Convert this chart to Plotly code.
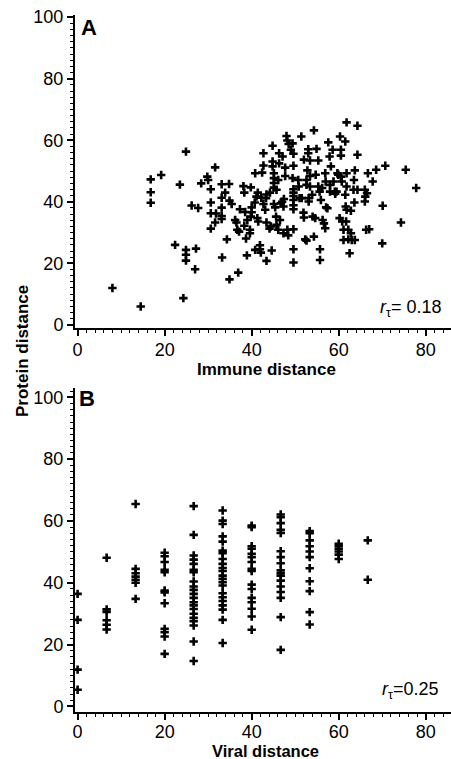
import plotly.graph_objects as go

# Panel A: immune distance vs protein distance
immune_x = [8.0, 14.5, 16.8, 16.8, 16.8, 19.2, 23.5, 24.9, 22.4, 24.9, 24.9, 24.9, 24.3, 26.2, 27.7, 27.2, 27.0,
            28.4, 29.8, 30.0, 31.6, 30.6, 30.6, 30.6, 30.6, 31.6, 31.8, 33.1, 33.1, 33.1, 33.1, 33.1, 33.2, 33.9,
            34.8, 34.3, 34.9, 34.9, 35.4, 36.2, 36.5, 36.7, 37.1, 36.9, 37.3, 38.1, 38.3, 38.5, 38.3, 38.7, 38.9,
            39.0, 39.6, 39.6, 39.8, 40.0, 40.0, 39.8, 40.7, 40.8, 40.8, 41.1, 41.4, 41.3, 41.5, 41.9, 41.9, 42.1,
            42.2, 42.4, 42.7, 43.1, 43.3, 42.7, 42.7, 43.4, 43.4, 44.2, 44.6, 44.8, 43.4, 44.1, 44.4, 44.8, 44.8,
            45.1, 45.1, 45.1, 45.1, 45.1, 45.4, 45.6, 45.7, 46.1, 46.1, 45.7, 46.3, 46.3, 46.5, 46.7, 47.0, 47.1,
            47.3, 47.3, 47.4, 47.7, 47.7, 48.0, 48.2, 48.2, 48.4, 48.5, 49.0, 49.4, 49.6, 49.6, 49.4, 49.6, 49.6,
            49.6, 49.6, 49.6, 49.6, 49.6, 49.6, 49.6, 50.7, 50.8, 51.0, 51.4, 51.5, 51.9, 52.0, 52.0, 52.3, 52.6,
            52.6, 52.6, 52.8, 53.0, 53.0, 53.1, 53.1, 53.4, 53.4, 53.4, 53.9, 54.0, 54.3, 54.3, 54.6, 54.7, 54.9,
            55.3, 55.3, 55.6, 55.7, 55.7, 55.9, 56.2, 56.3, 56.6, 56.9, 56.9, 57.0, 57.1, 57.4, 57.6, 57.9, 58.0,
            58.0, 58.2, 58.6, 58.8, 59.1, 59.2, 59.5, 59.7, 59.9, 60.2, 60.3, 60.5, 60.5, 60.5, 60.7, 60.8, 61.1,
            61.1, 61.5, 61.5, 61.6, 61.7, 61.8, 61.8, 61.8, 61.8, 62.2, 62.2, 62.5, 62.8, 62.8, 63.0, 63.4, 63.5,
            63.6, 63.7, 63.7, 64.3, 64.3, 64.3, 66.0, 66.0, 66.1, 66.5, 66.3, 67.0, 66.7, 67.8, 68.6, 70.1, 70.0,
            70.7, 74.3, 75.4, 77.8]
immune_y = [12.0, 6.0, 47.3, 43.1, 39.7, 48.7, 45.6, 56.3, 26.0, 24.4, 22.8, 20.9, 8.7, 38.8, 38.0, 24.8, 18.1,
            46.0, 48.2, 47.1, 51.2, 44.1, 39.8, 36.3, 31.3, 33.3, 36.2, 45.7, 41.3, 38.1, 35.4, 34.4, 21.9, 43.0,
            45.8, 27.8, 14.8, 40.4, 39.3, 34.1, 33.3, 30.9, 30.3, 17.0, 37.6, 45.1, 43.0, 36.7, 32.2, 28.1, 22.6,
            34.1, 30.9, 29.8, 44.7, 38.2, 36.6, 35.2, 39.8, 24.4, 49.3, 41.7, 43.0, 34.7, 33.6, 25.9, 24.6, 23.5,
            41.3, 49.5, 39.3, 37.4, 41.2, 55.8, 51.8, 42.4, 33.3, 43.0, 24.2, 58.2, 20.8, 31.3, 32.0, 51.5, 53.1,
            49.3, 47.7, 46.1, 44.6, 39.3, 38.2, 35.2, 32.5, 30.9, 47.1, 43.9, 55.8, 52.5, 34.1, 39.5, 40.0, 54.7,
            29.8, 38.5, 40.9, 51.1, 48.4, 61.4, 59.9, 30.9, 29.1, 58.8, 56.9, 59.0, 55.6, 51.7, 47.7, 44.1, 43.0,
            41.9, 40.6, 38.9, 37.6, 31.1, 24.6, 20.3, 47.1, 45.0, 41.2, 61.2, 41.2, 36.5, 53.7, 34.9, 27.8, 27.4,
            45.5, 47.1, 50.2, 57.1, 55.8, 41.2, 40.1, 48.4, 53.4, 45.0, 42.3, 35.2, 63.2, 28.7, 34.7, 48.8, 57.2,
            53.4, 45.0, 43.3, 24.6, 21.1, 40.6, 44.5, 34.1, 33.0, 31.4, 49.3, 46.6, 38.2, 37.9, 59.3, 54.7, 45.5,
            43.3, 51.5, 56.9, 46.6, 43.3, 42.6, 43.3, 49.3, 48.8, 34.7, 61.2, 56.9, 55.0, 48.2, 46.6, 33.6, 30.9,
            27.6, 59.6, 42.3, 38.5, 33.6, 65.8, 49.3, 45.0, 37.4, 30.9, 27.8, 23.3, 37.1, 29.8, 27.6, 43.9, 47.1,
            39.8, 50.2, 27.6, 64.7, 55.3, 43.9, 40.1, 43.9, 41.7, 42.8, 30.9, 31.1, 49.3, 46.6, 50.4, 38.7, 26.5,
            51.7, 33.3, 50.4, 44.5]

# Panel B: viral distance columns vs protein distance
viral_levels = [0.0, 6.67, 13.33, 20.0, 26.67, 33.33, 40.0, 46.67, 53.33, 60.0, 66.67]
viral_protein = [
    [36.4, 28.0, 11.9, 5.4],
    [48.1, 31.4, 30.6, 27.9, 26.4, 24.9],
    [65.5, 44.5, 43.1, 42.0, 41.0, 40.0, 34.8],
    [49.7, 48.6, 46.7, 44.2, 43.4, 37.5, 36.9, 33.4, 25.1, 24.0, 22.6, 17.0],
    [64.8, 55.5, 48.8, 47.5, 46.1, 44.2, 43.4, 40.4, 38.8, 37.7, 36.4, 35.1, 33.7, 32.7, 31.5, 30.0,
     28.7, 27.6, 26.2, 21.0, 14.7],
    [63.4, 60.1, 59.0, 55.0, 53.3, 50.4, 49.6, 47.7, 46.1, 44.8, 43.8, 42.3, 41.3, 40.2, 39.1, 36.6,
     35.3, 34.1, 32.7, 31.3, 28.0, 20.5],
    [58.5, 58.0, 51.8, 51.0, 49.4, 48.3, 46.7, 44.5, 43.8, 39.4, 38.0, 35.1, 33.7, 31.6, 29.1, 24.8],
    [62.1, 61.2, 59.3, 57.1, 56.1, 50.2, 48.3, 46.3, 44.0, 43.1, 42.3, 40.7, 38.8, 37.0, 35.1, 28.9, 18.3],
    [56.7, 56.0, 53.7, 51.8, 50.1, 48.3, 44.7, 40.5, 37.3, 30.5, 26.5],
    [52.6, 51.8, 51.0, 50.1, 49.1, 47.7],
    [53.7, 41.0],
]
viral_x = [lv for lv, ys in zip(viral_levels, viral_protein) for _ in ys]
viral_y = [y for ys in viral_protein for y in ys]

tick_vals_x = [0, 20, 40, 60, 80]
tick_vals_y = [0, 20, 40, 60, 80, 100]

FONT = "Liberation Sans, Arial, Helvetica, sans-serif"
marker = dict(symbol="cross-thin", size=6, color="black", line=dict(color="black", width=2.6))

fig = go.Figure()
fig.add_trace(go.Scatter(x=immune_x, y=immune_y, mode="markers", marker=marker,
                         xaxis="x", yaxis="y", showlegend=False, cliponaxis=False))
fig.add_trace(go.Scatter(x=viral_x, y=viral_y, mode="markers", marker=marker,
                         xaxis="x2", yaxis="y2", showlegend=False, cliponaxis=False))

def xax(domain_anchor, standoff):
    return dict(range=[-0.6, 85.8], domain=[75 / 451, 1], anchor=domain_anchor, automargin=False,
                tickvals=tick_vals_x, ticks="outside", ticklen=6, tickwidth=1.5, tickcolor="black",
                showline=True, linecolor="black", linewidth=2, showgrid=False, zeroline=False,
                tickfont=dict(family=FONT, size=18, color="black"), ticklabelstandoff=standoff,
                minor=dict(dtick=2, ticks="outside", ticklen=3, tickwidth=1, tickcolor="black"))

def yax(dom, rng, anchor):
    return dict(range=rng, domain=dom, anchor=anchor, automargin=False,
                tickvals=tick_vals_y, ticks="outside", ticklen=6, tickwidth=1.5, tickcolor="black",
                showline=True, linecolor="black", linewidth=2, showgrid=False, zeroline=False,
                tickfont=dict(family=FONT, size=18, color="black"),
                minor=dict(dtick=2, ticks="outside", ticklen=3, tickwidth=1, tickcolor="black"))

fig.update_layout(
    width=451, height=759,
    margin=dict(l=0, r=0, t=0, b=0, autoexpand=False),
    paper_bgcolor="white", plot_bgcolor="white",
    xaxis=xax("y", -2),
    yaxis=yax([1 - 328 / 759, 1 - 15 / 759], [-1, 100.7], "x"),
    xaxis2=xax("y2", -4),
    yaxis2=yax([1 - 712 / 759, 1 - 388 / 759], [-1.8, 103], "x2"),
)

def ann(text, x, y, size, bold=True, xanchor="center", yanchor="middle", angle=0):
    fig.add_annotation(text=f"<b>{text}</b>" if bold else text, x=x / 451, y=1 - y / 759,
                       xref="paper", yref="paper", showarrow=False, xanchor=xanchor, yanchor=yanchor,
                       textangle=angle, font=dict(family=FONT, size=size, color="black"))

ann("Immune distance", 266, 369, 17)
ann("Viral distance", 265, 751, 16.5)
ann("Protein distance", 22, 351, 17, angle=-90)
ann("A", 89, 27, 22)
ann("B", 87, 398, 22)
ann("<i>r</i><sub>τ</sub>= 0.18", 444, 308, 18, bold=False, xanchor="right")
ann("<i>r</i><sub>τ</sub>=0.25", 441, 690, 18, bold=False, xanchor="right")

fig.write_html("out.html", config={"displayModeBar": False},
               post_script="document.body.style.margin='0';document.body.style.overflow='hidden';")
